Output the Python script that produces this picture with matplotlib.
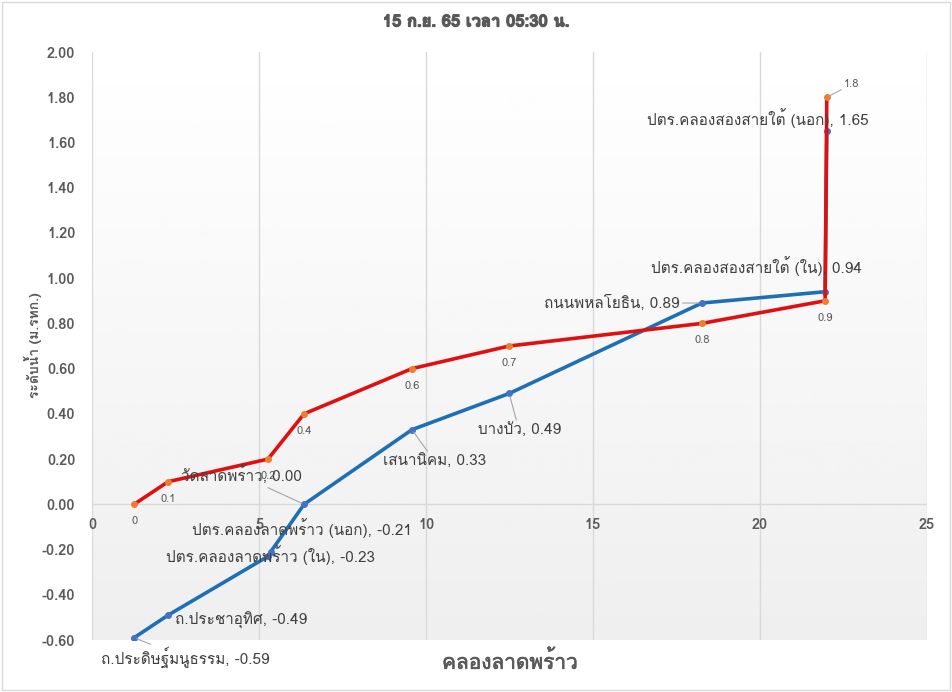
import numpy as np
import matplotlib
matplotlib.use("Agg")
import matplotlib.pyplot as plt
import matplotlib.patheffects as pe
from matplotlib import font_manager
from matplotlib.ft2font import FT2Font
from matplotlib.patches import Rectangle

# distances along the canal (km) and water levels (m MSL)
red_x = [1.26, 2.28, 5.27, 6.35, 9.58, 12.49, 18.26, 21.95, 22.0]
red_y = [0.0, 0.1, 0.2, 0.4, 0.6, 0.7, 0.8, 0.9, 1.8]

blue_x = [1.26, 2.28, 5.27, 5.35, 6.35, 9.58, 12.49, 18.26, 21.95, 22.0]
blue_y = [-0.59, -0.49, -0.23, -0.21, 0.00, 0.33, 0.49, 0.89, 0.94, 1.65]
blue_names = ["ถ.ประดิษฐ์มนูธรรม", "ถ.ประชาอุทิศ", "ปตร.คลองลาดพร้าว (ใน)",
              "ปตร.คลองลาดพร้าว (นอก)", "วัดลาดพร้าว", "เสนานิคม", "บางบัว",
              "ถนนพหลโยธิน", "ปตร.คลองสองสายใต้ (ใน)", "ปตร.คลองสองสายใต้ (นอก)"]

title = "15 ก.ย. 65 เวลา 05:30 น."
x_label = "คลองลาดพร้าว"
y_label = "ระดับน้ำ (ม.รทก.)"


def find_thai_font():
    for f in font_manager.fontManager.ttflist:
        try:
            if 0x0E01 in FT2Font(f.fname).get_charmap():
                return f.name
        except Exception:
            pass
    return None


thai = find_thai_font()
fams = ([thai] if thai else []) + ["DejaVu Sans"]
plt.rcParams["font.family"] = fams

fig = plt.figure(figsize=(9.52, 6.92), dpi=100)
ax = fig.add_axes([92 / 952, 1 - 640 / 692, 835 / 952, 588 / 692])

# plot area gradient
grad = np.linspace(1.0, 0.935, 200).reshape(-1, 1)
ax.imshow(grad, cmap="gray", vmin=0, vmax=1, extent=[0, 1, 0, 1],
          transform=ax.transAxes, aspect="auto", zorder=0)

ax.set_xlim(0, 25)
ax.set_ylim(-0.6, 2.0)
ax.set_xticks(np.arange(0, 26, 5))
ax.set_yticks(np.arange(-0.6, 2.01, 0.2))
ax.yaxis.set_major_formatter(matplotlib.ticker.FormatStrFormatter("%.2f"))
ax.grid(axis="x", color="#d9d9d9", lw=1, zorder=1)
for s in ax.spines.values():
    s.set_visible(False)
ax.axhline(0, color="#d9d9d9", lw=1, zorder=1)
ax.tick_params(length=0, labelsize=10.5, colors="#595959")
for t in ax.get_yticklabels():
    t.set_fontweight("bold")
ax.tick_params(axis="y", pad=12)
# x tick labels sit under the zero line
ax.tick_params(axis="x", labelbottom=False)
for v in np.arange(0, 26, 5):
    ax.annotate(str(v), (v, 0), xytext=(0, -21), textcoords="offset pixels",
                ha="center", va="center", fontsize=10.5, color="#595959",
                fontweight="bold")

ax.plot(blue_x, blue_y, color="#1f6fb4", lw=2.6, marker="o", ms=4,
        mfc="#4472c4", mec="#4472c4", zorder=3)
ax.plot(red_x, red_y, color="#e01010", lw=2.6, marker="o", ms=4,
        mfc="#ed7d31", mec="#ed7d31", zorder=4)

lead = dict(arrowstyle="-", color="#a6a6a6", lw=0.8, shrinkA=0, shrinkB=2)
# offsets in pixels for the blue labels
blue_off = [(51, -20), (7, -5), (2, 1), (31, 24), (-63, 29),
            (23, -32), (10, -37), (-22, 0), (-69, 26), (-69, 13)]
blue_ha = ["center", "left", "center", "center", "center",
           "center", "center", "right", "center", "center"]
blue_lead = [True, False, False, False, True, True, True, True, False, False]
for x, y, n, off, ha, ld in zip(blue_x, blue_y, blue_names, blue_off,
                                blue_ha, blue_lead):
    ax.annotate(f"{n}, {y:.2f}", (x, y), xytext=off, textcoords="offset pixels",
                ha=ha, va="center", fontsize=11, color="#404040", zorder=6,
                arrowprops=lead if ld else None)

for i, (x, y) in enumerate(zip(red_x, red_y)):
    if i == len(red_x) - 1:
        ax.annotate(f"{y:g}", (x, y), xytext=(25, 13), textcoords="offset pixels",
                    ha="center", va="center", fontsize=8, color="#595959",
                    zorder=6, arrowprops=lead)
    else:
        ax.annotate(f"{y:g}", (x, y), xytext=(0, -17), textcoords="offset pixels",
                    ha="center", va="center", fontsize=8, color="#595959", zorder=6)

fig.text(476 / 952, 1 - 22 / 692, title, ha="center", va="center",
         fontsize=12, fontweight="bold", color="#595959",
         path_effects=[pe.withStroke(linewidth=0.9, foreground="#595959")])
fig.text(510 / 952, 1 - 661 / 692, x_label, ha="center", va="center",
         fontsize=15, color="#595959",
         path_effects=[pe.withStroke(linewidth=0.5, foreground="#595959")])
fig.text(33 / 952, 1 - 345 / 692, y_label, ha="center", va="center",
         rotation=90, fontsize=10, fontweight="bold", color="#595959")

fig.patches.append(Rectangle((0.002, 0.003), 0.996, 0.994, transform=fig.transFigure,
                             fill=False, edgecolor="#d9d9d9", lw=1))

fig.savefig("out.png", dpi=100)
